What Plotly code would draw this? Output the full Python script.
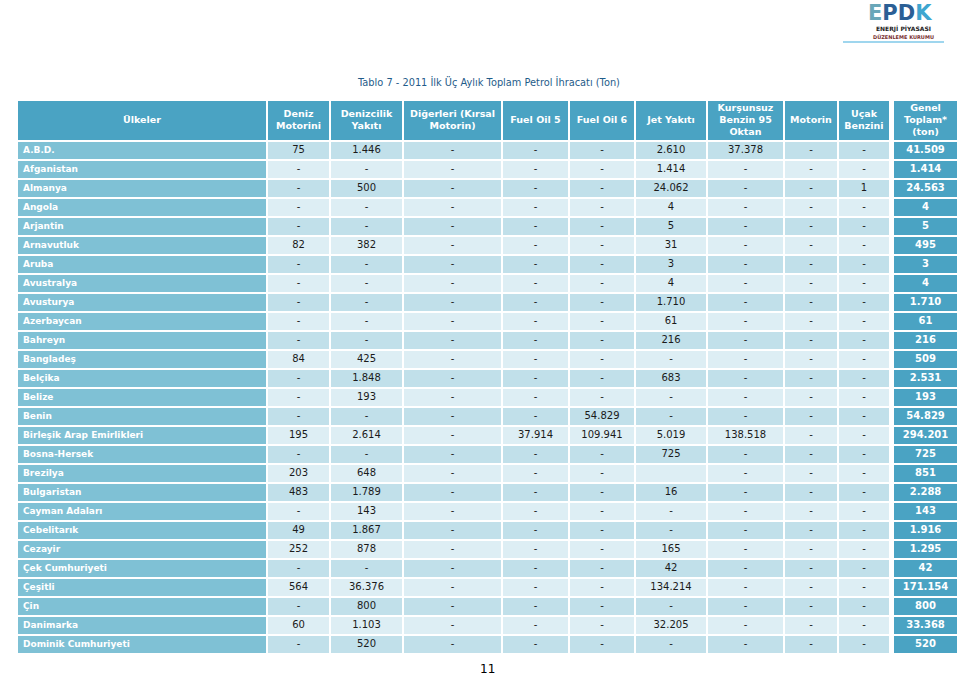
"""
Tablo 7 - 2011 İlk Üç Aylık Toplam Petrol İhracatı (Ton), EPDK bülteni.
Tablo, piksel ölçekli eksenler üzerinde heatmap + metin izleriyle çiziliyor.
"""
import plotly.graph_objects as go

ulkeler = [
    "A.B.D.", "Afganistan", "Almanya", "Angola", "Arjantin", "Arnavutluk",
    "Aruba", "Avustralya", "Avusturya", "Azerbaycan", "Bahreyn", "Bangladeş",
    "Belçika", "Belize", "Benin", "Birleşik Arap Emirlikleri", "Bosna-Hersek",
    "Brezilya", "Bulgaristan", "Cayman Adaları", "Cebelitarık", "Cezayir",
    "Çek Cumhuriyeti", "Çeşitli", "Çin", "Danimarka", "Dominik Cumhuriyeti",
]

# None -> "-", "" -> empty cell
deniz_motorini = [75, None, None, None, None, 82, None, None, None, None, None, 84,
                  None, None, None, 195, None, 203, 483, None, 49, 252, None, 564,
                  None, 60, None]
denizcilik_yakiti = [1446, None, 500, None, None, 382, None, None, None, None, None, 425,
                     1848, 193, None, 2614, None, 648, 1789, 143, 1867, 878, None, 36376,
                     800, 1103, 520]
digerleri = [None] * 27
fuel_oil_5 = [None] * 15 + [37914] + [None] * 11
fuel_oil_6 = [None] * 14 + [54829, 109941] + [None] * 11
jet_yakiti = [2610, 1414, 24062, 4, 5, 31, 3, 4, 1710, 61, 216, None,
              683, None, None, 5019, 725, "", 16, None, None, 165, 42, 134214,
              None, 32205, None]
kursunsuz_95 = [37378] + [None] * 14 + [138518] + [None] * 11
motorin = [None] * 27
ucak_benzini = [None, None, 1] + [None] * 24
genel_toplam = [41509, 1414, 24563, 4, 5, 495, 3, 4, 1710, 61, 216, 509,
                2531, 193, 54829, 294201, 725, 851, 2288, 143, 1916, 1295, 42, 171154,
                800, 33368, 520]

headers = ["Ülkeler", "Deniz<br>Motorini", "Denizcilik<br>Yakıtı",
           "Diğerleri (Kırsal<br>Motorin)", "Fuel Oil 5", "Fuel Oil 6", "Jet Yakıtı",
           "Kurşunsuz<br>Benzin 95<br>Oktan", "Motorin", "Uçak<br>Benzini", "",
           "Genel<br>Toplam*<br>(ton)"]

# page geometry (pixels)
W, H = 960, 676
TABLE_LEFT = 17
COL_WIDTHS = [250, 63, 73, 99, 67, 66, 72, 77, 54, 52, 3, 65]
HEADER_TOP, HEADER_H, ROW_H = 100, 41, 19
GAP_COL = 10

HEADER_BLUE = "#4aa3c3"
NAME_BLUE = "#7fc1d5"
ROW_DARK = "#c1e0ea"
ROW_LIGHT = "#ddeef4"
FONT = "DejaVu Sans"


def fmt(v):
    if v is None:
        return "-"
    if v == "":
        return ""
    return f"{v:,}".replace(",", ".")


n = len(ulkeler)
data_cols = [deniz_motorini, denizcilik_yakiti, digerleri, fuel_oil_5, fuel_oil_6,
             jet_yakiti, kursunsuz_95, motorin, ucak_benzini]

x_edges = [TABLE_LEFT]
for w in COL_WIDTHS:
    x_edges.append(x_edges[-1] + w)
y_edges = [HEADER_TOP, HEADER_TOP + HEADER_H]
for _ in range(n):
    y_edges.append(y_edges[-1] + ROW_H)
x_mid = [(a + b) / 2 for a, b in zip(x_edges[:-1], x_edges[1:])]
y_mid = [(a + b) / 2 for a, b in zip(y_edges[:-1], y_edges[1:])]

# colour codes: 0 white, 1 header blue, 2 name blue, 3 dark row, 4 light row
z = [[0 if c == GAP_COL else 1 for c in range(len(COL_WIDTHS))]]
for r in range(n):
    row = [2] + [3 if r % 2 == 0 else 4] * len(data_cols) + [0, 1]
    z.append(row)

fig = go.Figure()
fig.add_trace(go.Heatmap(
    x=x_edges, y=y_edges, z=z,
    zmin=0, zmax=4,
    colorscale=[[0, "white"], [0.25, HEADER_BLUE], [0.5, NAME_BLUE],
                [0.75, ROW_DARK], [1, ROW_LIGHT]],
    xgap=2, ygap=2, showscale=False, hoverinfo="skip",
))

# header texts
fig.add_trace(go.Scatter(
    x=[x_mid[c] for c in range(len(headers)) if headers[c]],
    y=[y_mid[0]] * sum(1 for h in headers if h),
    text=[f"<b>{h}</b>" for h in headers if h],
    mode="text", textposition="middle center",
    textfont=dict(family=FONT, size=9.5, color="white"),
    hoverinfo="skip",
))

# country names
fig.add_trace(go.Scatter(
    x=[TABLE_LEFT + 6] * n, y=y_mid[1:],
    text=[f"<b>{u}</b>" for u in ulkeler],
    mode="text", textposition="middle right",
    textfont=dict(family=FONT, size=9, color="white"),
    hoverinfo="skip",
))

# data values
xs, ys, texts = [], [], []
for c, col in enumerate(data_cols, start=1):
    for r, v in enumerate(col):
        xs.append(x_mid[c])
        ys.append(y_mid[r + 1])
        texts.append(fmt(v))
fig.add_trace(go.Scatter(
    x=xs, y=ys, text=texts,
    mode="text", textposition="middle center",
    textfont=dict(family=FONT, size=10, color="#1a1a1a"),
    hoverinfo="skip",
))

# totals
fig.add_trace(go.Scatter(
    x=[x_mid[-1]] * n, y=y_mid[1:],
    text=[f"<b>{fmt(v)}</b>" for v in genel_toplam],
    mode="text", textposition="middle center",
    textfont=dict(family=FONT, size=10, color="white"),
    hoverinfo="skip",
))

fig.add_annotation(
    x=488, y=82, showarrow=False,
    text="Tablo 7 - 2011 İlk Üç Aylık Toplam Petrol İhracatı (Ton)",
    font=dict(family=FONT, size=9.8, color="#1f5c8a"),
)
fig.add_annotation(
    x=487, y=669, showarrow=False,
    text="11", font=dict(family=FONT, size=12, color="black"),
)

# logo
fig.add_annotation(
    x=900, y=12.5, showarrow=False, borderpad=0,
    text=("<b><span style='color:#6aa7b9'>E</span><span style='color:#2b5f95'>P</span>"
          "<span style='color:#2b5f95'>D</span><span style='color:#3ea6d0'>K</span></b>"),
    font=dict(family=FONT, size=21),
)
fig.add_annotation(x=903, y=29, showarrow=False, borderpad=0,
                   text="<b>ENERJİ PİYASASI</b>",
                   font=dict(family=FONT, size=6, color="#222222"))
fig.add_annotation(x=903, y=36.5, showarrow=False, borderpad=0,
                   text="<b>DÜZENLEME KURUMU</b>",
                   font=dict(family=FONT, size=5, color="#7a3030"))
fig.add_shape(type="line", x0=843, x1=944, y0=42, y1=42,
              line=dict(color="#9fd6ee", width=2))

fig.update_xaxes(range=[0, W], visible=False, fixedrange=True)
fig.update_yaxes(range=[H, 0], visible=False, fixedrange=True)
fig.update_layout(
    width=W, height=H,
    margin=dict(l=0, r=0, t=0, b=0),
    paper_bgcolor="white", plot_bgcolor="white",
    showlegend=False,
)

# drop the browser's default 8px body margin so the page lines up with the window
fig.write_html("out.html", config={"displayModeBar": False},
               post_script="document.body.style.margin = '0';")
